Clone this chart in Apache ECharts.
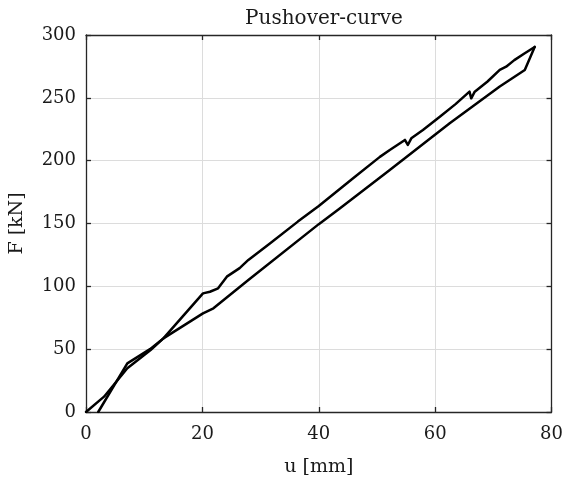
<!DOCTYPE html>
<html>
<head>
<meta charset="utf-8">
<script src="https://cdn.jsdelivr.net/npm/echarts@6/dist/echarts.min.js"></script>
<style>
  html, body { margin: 0; padding: 0; background: #fff; }
  #chart { width: 566px; height: 483px; }
</style>
</head>
<body>
<div id="chart"></div>
<script>
// Loading branch: displacement u [mm] and force F [kN]
const loadU = [0, 3.1, 7.1, 11.1, 13.3, 20.1, 21.3, 22.7, 24.2, 26.4, 27.9, 31.6, 36.4, 40.0, 45.9, 50.5, 52.2, 54.8, 55.3, 55.9, 57.9, 60.8, 63.5, 65.9, 66.2, 66.8, 69.0, 71.1, 72.2, 73.6, 75.4, 77.1];
const loadF = [0, 12.2, 34.8, 49.3, 58.6, 94.4, 95.7, 98.4, 107.7, 114.5, 121.0, 134.0, 151.5, 164.0, 186.0, 203.0, 208.5, 216.5, 212.5, 217.8, 224.4, 235.0, 245.0, 254.9, 249.6, 254.9, 263.0, 272.2, 274.8, 280.0, 285.5, 290.5];

// Return branch back to zero force
const returnU = [77.1, 75.4, 71.1, 62.5, 52.2, 43.6, 40.0, 27.9, 21.9, 20.1, 13.3, 11.0, 7.1, 2.1];
const returnF = [290.5, 272.2, 259.0, 229.7, 192.6, 162.0, 149.5, 105.0, 82.5, 78.5, 58.6, 50.0, 38.7, 0];

const xTicks = { min: 0, max: 80, interval: 20 };
const yTicks = { min: 0, max: 300, interval: 50 };

const FONT = '"DejaVu Serif", "Liberation Serif", serif';
const TEXT_COLOR = '#1a1a1a';
const AXIS_COLOR = '#262626';
const GRID_COLOR = '#dcdcdc';

const toPairs = (us, fs) => us.map((u, i) => [u, fs[i]]);

const chart = echarts.init(document.getElementById('chart'), null, { renderer: 'canvas' });

const baseAxis = {
  axisLine: { show: true, onZero: false, lineStyle: { color: AXIS_COLOR, width: 1.3 } },
  axisTick: { show: true, inside: true, length: 5, lineStyle: { color: AXIS_COLOR, width: 1.3 } },
  splitLine: { show: false }
};

chart.setOption({
  animation: false,
  backgroundColor: '#fff',
  title: {
    text: 'Pushover-curve',
    left: 319, top: 4, textAlign: 'center',
    textStyle: { fontFamily: FONT, fontSize: 20, fontWeight: 'normal', color: TEXT_COLOR }
  },
  grid: { left: 86, right: 14, top: 35, bottom: 71, containLabel: false },
  xAxis: [
    Object.assign({}, baseAxis, {
      type: 'value', position: 'bottom',
      min: xTicks.min, max: xTicks.max, interval: xTicks.interval,
      name: 'u [mm]', nameLocation: 'middle', nameGap: 46,
      nameTextStyle: { fontFamily: FONT, fontSize: 19, color: TEXT_COLOR },
      axisLabel: { fontFamily: FONT, fontSize: 18, color: TEXT_COLOR, margin: 13 },
      splitLine: { show: true, lineStyle: { color: GRID_COLOR, width: 1 } }
    }),
    Object.assign({}, baseAxis, {
      type: 'value', position: 'top',
      min: xTicks.min, max: xTicks.max, interval: xTicks.interval,
      axisLabel: { show: false }
    })
  ],
  yAxis: [
    Object.assign({}, baseAxis, {
      type: 'value', position: 'left',
      min: yTicks.min, max: yTicks.max, interval: yTicks.interval,
      name: 'F [kN]', nameLocation: 'middle', nameGap: 59,
      nameTextStyle: { fontFamily: FONT, fontSize: 19, color: TEXT_COLOR },
      axisLabel: { fontFamily: FONT, fontSize: 18, color: TEXT_COLOR, margin: 10 },
      splitLine: { show: true, lineStyle: { color: GRID_COLOR, width: 1 } }
    }),
    Object.assign({}, baseAxis, {
      type: 'value', position: 'right',
      min: yTicks.min, max: yTicks.max, interval: yTicks.interval,
      axisLabel: { show: false }
    })
  ],
  series: [
    {
      name: 'loading', type: 'line', data: toPairs(loadU, loadF),
      showSymbol: false, symbol: 'none', smooth: false,
      lineStyle: { color: '#000', width: 2.5, join: 'round', cap: 'round' },
      z: 5
    },
    {
      name: 'return', type: 'line', data: toPairs(returnU, returnF),
      showSymbol: false, symbol: 'none', smooth: false,
      lineStyle: { color: '#000', width: 2.5, join: 'round', cap: 'round' },
      z: 5
    }
  ]
});
</script>
</body>
</html>
